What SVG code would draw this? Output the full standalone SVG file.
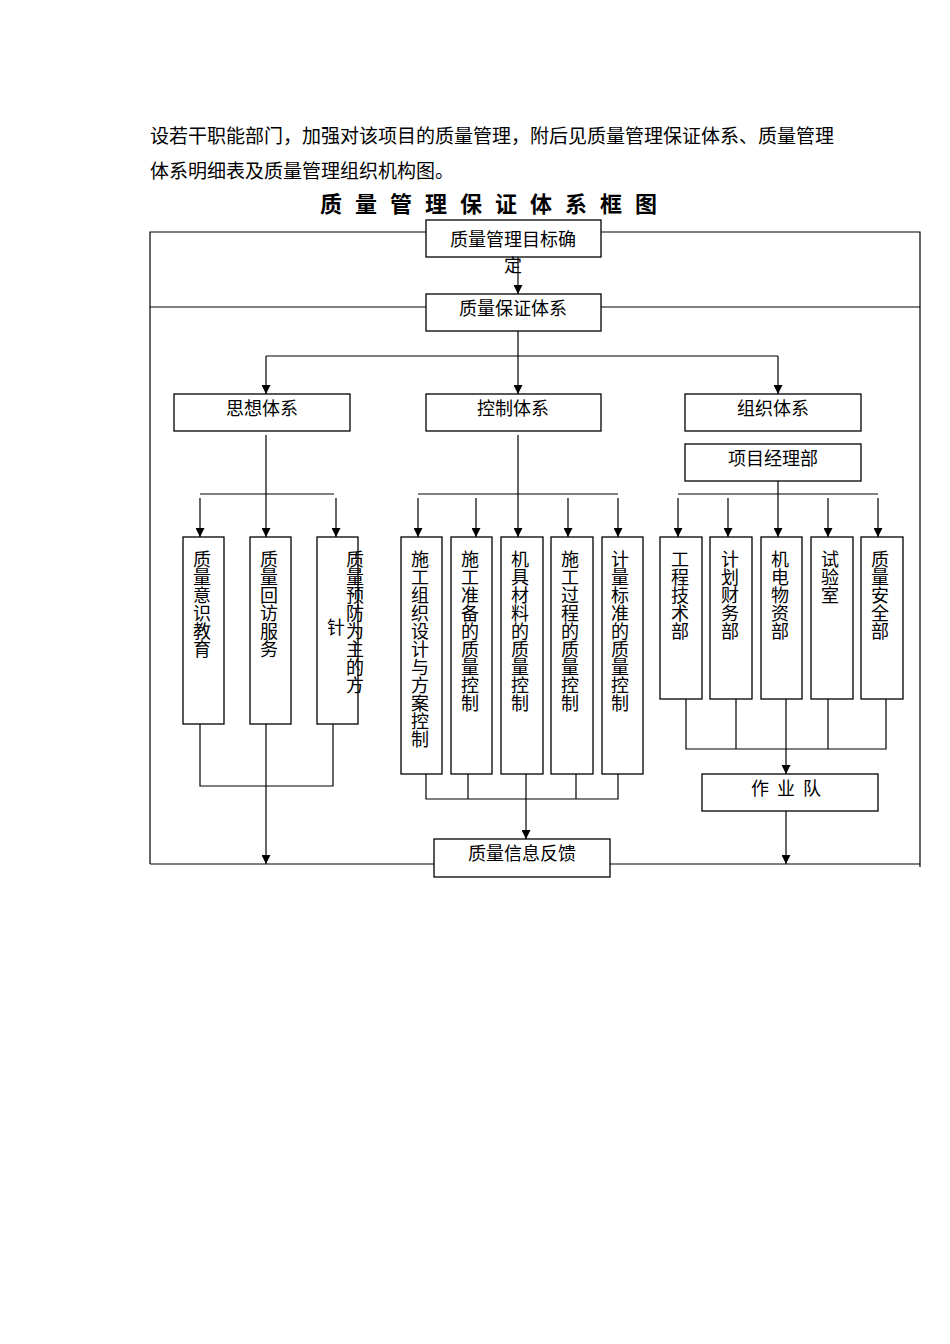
<svg xmlns="http://www.w3.org/2000/svg" width="950" height="1344" viewBox="0 0 950 1344">
<style>
text{font-family:"Liberation Sans","Noto Sans CJK SC",sans-serif;font-size:18px;fill:#000}
.p{font-size:19px}
.b{fill:#fff;stroke:#000;stroke-width:1.3}
.l{fill:none;stroke:#000;stroke-width:1.2}
.c{text-anchor:middle}
.v{writing-mode:tb;glyph-orientation-vertical:0;text-anchor:start}
</style>
<defs><marker id="a" viewBox="0 0 10 10" refX="10" refY="5" markerWidth="9" markerHeight="9" markerUnits="userSpaceOnUse" orient="auto"><path d="M0,0L10,5L0,10z"/></marker></defs>
<rect width="950" height="1344" fill="#fff"/>
<text x="150" y="143" class="p">设若干职能部门，加强对该项目的质量管理，附后见质量管理保证体系、质量管理</text>
<text x="150" y="178" class="p">体系明细表及质量管理组织机构图。</text>
<text x="495" y="212" class="c" style="font-size:22px;font-weight:bold;letter-spacing:13px">质量管理保证体系框图</text>
<g id="connectors" class="l">
<path d="M426,232H150V864M601,232H920V867M426,307H150M601,307H920M150,864H434M610,864H920"/>
<path d="M518,331V356M266,356H778M200,494H334M418,494H618M678,494H878"/>
<path d="M200,724V786H333V724M426,774V799H618V774M468,774V799M576,774V799M686,699V749H886V699M736,699V749M828,699V749"/>
<g marker-end="url(#a)">
<path d="M518,257V294"/>
<path d="M266,356V394"/><path d="M518,356V394"/><path d="M778,356V394"/>
<path d="M266,435V537"/><path d="M200,498V537"/><path d="M336,498V537"/>
<path d="M518,435V537"/><path d="M418,498V537"/><path d="M476,498V537"/><path d="M568,498V537"/><path d="M618,498V537"/>
<path d="M778,481V537"/><path d="M678,498V537"/><path d="M728,498V537"/><path d="M828,498V537"/><path d="M878,498V537"/>
<path d="M266,724V864"/><path d="M526,774V839"/><path d="M786,699V774"/><path d="M786,811V864"/>
</g>
</g>
<g id="n1"><rect class="b" x="426" y="220" width="175" height="37"/><text x="513" y="246" class="c">质量管理目标确</text><text x="513" y="272" class="c">定</text></g>
<g id="n2"><rect class="b" x="426" y="294" width="175" height="37"/><text x="513" y="315" class="c">质量保证体系</text></g>
<g id="n3"><rect class="b" x="174" y="394" width="176" height="37"/><text x="262" y="415" class="c">思想体系</text></g>
<g id="n4"><rect class="b" x="426" y="394" width="175" height="37"/><text x="513" y="415" class="c">控制体系</text></g>
<g id="n5"><rect class="b" x="685" y="394" width="176" height="37"/><text x="773" y="415" class="c">组织体系</text></g>
<g id="n6"><rect class="b" x="685" y="444" width="176" height="37"/><text x="773" y="465" class="c">项目经理部</text></g>
<g id="n7"><rect class="b" x="183" y="537" width="41" height="187"/><text x="200" y="550" class="v">质量意识教育</text></g>
<g id="n8"><rect class="b" x="250" y="537" width="41" height="187"/><text x="267" y="550" class="v">质量回访服务</text></g>
<g id="n9"><rect class="b" x="317" y="537" width="41" height="187"/><text x="353" y="550" class="v">质量预防为主的方</text><text x="334" y="618" class="v">针</text></g>
<g id="n10"><rect class="b" x="401" y="537" width="41" height="237"/><text x="418" y="550" class="v">施工组织设计与方案控制</text></g>
<g id="n11"><rect class="b" x="451" y="537" width="41" height="237"/><text x="468" y="550" class="v">施工准备的质量控制</text></g>
<g id="n12"><rect class="b" x="501" y="537" width="42" height="237"/><text x="518" y="550" class="v">机具材料的质量控制</text></g>
<g id="n13"><rect class="b" x="551" y="537" width="42" height="237"/><text x="568" y="550" class="v">施工过程的质量控制</text></g>
<g id="n14"><rect class="b" x="602" y="537" width="41" height="237"/><text x="618" y="550" class="v">计量标准的质量控制</text></g>
<g id="n15"><rect class="b" x="660" y="537" width="42" height="162"/><text x="678" y="550" class="v">工程技术部</text></g>
<g id="n16"><rect class="b" x="710" y="537" width="42" height="162"/><text x="728" y="550" class="v">计划财务部</text></g>
<g id="n17"><rect class="b" x="761" y="537" width="41" height="162"/><text x="778" y="550" class="v">机电物资部</text></g>
<g id="n18"><rect class="b" x="811" y="537" width="42" height="162"/><text x="828" y="550" class="v">试验室</text></g>
<g id="n19"><rect class="b" x="861" y="537" width="42" height="162"/><text x="878" y="550" class="v">质量安全部</text></g>
<g id="n20"><rect class="b" x="702" y="774" width="176" height="37"/><text x="790" y="795" class="c" style="letter-spacing:8px">作业队</text></g>
<g id="n21"><rect class="b" x="434" y="839" width="176" height="38"/><text x="522" y="860" class="c">质量信息反馈</text></g>
</svg>
